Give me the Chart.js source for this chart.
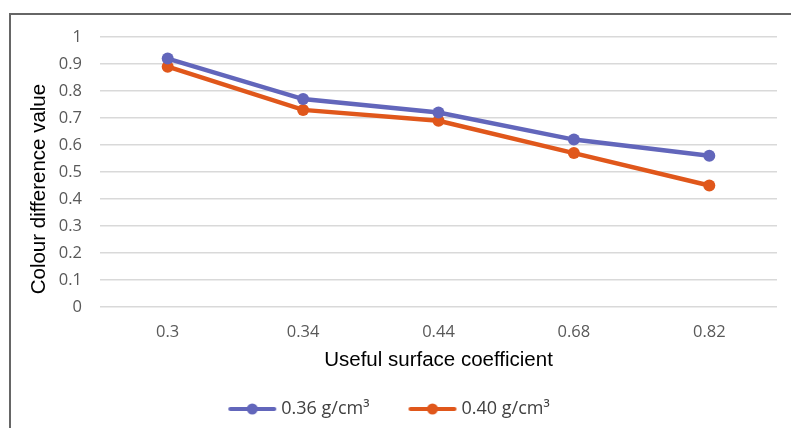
<!DOCTYPE html>
<html>
<head>
<meta charset="utf-8">
<script src="https://cdn.jsdelivr.net/npm/chart.js@4.4.1/dist/chart.umd.min.js"></script>
<style>
  html, body { margin: 0; padding: 0; background: #fff; }
  #wrap { position: relative; width: 791px; height: 428px; }
  #frame { position: absolute; left: 9px; top: 13px; right: -4px; bottom: -4px;
           border-top: 2px solid #666; border-left: 2px solid #666; }
  canvas { position: absolute; left: 0; top: 0; }
</style>
</head>
<body>
<div id="wrap">
  <div id="frame"></div>
  <canvas id="chart" width="791" height="428"></canvas>
</div>
<script>
// surface coefficient categories and colour difference per density
var coefficients = ['0.3', '0.34', '0.44', '0.68', '0.82'];
var density036 = [0.92, 0.77, 0.72, 0.62, 0.56];
var density040 = [0.89, 0.73, 0.69, 0.57, 0.45];
var seriesNames = ['0.36 g/cm\u00B3', '0.40 g/cm\u00B3'];

var blue = '#6266bb';
var orange = '#e0571b';

// legend marker: short line with a dot in the middle
// blank on the left gives the gap between legend items
function legendMarker(color) {
    var c = document.createElement('canvas');
    c.width = 84;
    c.height = 14;
    var ctx = c.getContext('2d');
    ctx.strokeStyle = color;
    ctx.lineWidth = 4;
    ctx.lineCap = 'round';
    ctx.beginPath();
    ctx.moveTo(37, 7);
    ctx.lineTo(81, 7);
    ctx.stroke();
    ctx.fillStyle = color;
    ctx.beginPath();
    ctx.arc(59, 7, 5.5, 0, Math.PI * 2);
    ctx.fill();
    return c;
}

var markers = [legendMarker(blue), legendMarker(orange)];

// nudge the legend row left
var legendShift = {
    id: 'legendShift',
    afterLayout: function (chart) {
        chart.legend.left -= 28;
        chart.legend.right -= 28;
    }
};

var data = {
    labels: coefficients,
    datasets: [
        {
            label: seriesNames[0],
            data: density036,
            borderColor: blue,
            backgroundColor: blue,
            borderWidth: 4.5,
            pointRadius: 6,
            pointBorderWidth: 0,
            pointHoverRadius: 6,
            tension: 0
        },
        {
            label: seriesNames[1],
            data: density040,
            borderColor: orange,
            backgroundColor: orange,
            borderWidth: 4.5,
            pointRadius: 6,
            pointBorderWidth: 0,
            pointHoverRadius: 6,
            tension: 0
        }
    ]
};

var config = {
    type: 'line',
    data: data,
    plugins: [legendShift],
    options: {
        responsive: false,
        animation: false,
        layout: {
            padding: { left: 27, right: 14, top: 37, bottom: 0 }
        },
        plugins: {
            tooltip: { enabled: false },
            legend: {
                position: 'bottom',
                labels: {
                    usePointStyle: true,
                    pointStyleWidth: 74,
                    padding: 9,
                    color: '#404040',
                    font: { family: 'Open Sans', size: 18 },
                    generateLabels: function (chart) {
                        return chart.data.datasets.map(function (ds, i) {
                            return {
                                text: ds.label,
                                pointStyle: markers[i],
                                fillStyle: ds.borderColor,
                                strokeStyle: ds.borderColor,
                                lineWidth: 0,
                                fontColor: '#404040',
                                datasetIndex: i,
                                hidden: false
                            };
                        });
                    }
                }
            }
        },
        scales: {
            x: {
                offset: true,
                grid: { display: false, drawTicks: false },
                border: { display: false },
                ticks: {
                    color: '#595959',
                    padding: 15,
                    font: { family: 'Open Sans', size: 16.5 }
                },
                title: {
                    display: true,
                    text: 'Useful surface coefficient',
                    color: '#000',
                    font: { family: 'Liberation Sans', size: 20.5 },
                    padding: { top: 1, bottom: 18 }
                },
                afterFit: function (scale) { scale.height = 84; }
            },
            y: {
                min: 0,
                max: 1,
                grid: { color: '#d9d9d9', lineWidth: 1.5, drawTicks: false },
                border: { display: false },
                ticks: {
                    stepSize: 0.1,
                    color: '#595959',
                    padding: 18,
                    font: { family: 'Open Sans', size: 16.5 },
                    callback: function (v) { return Math.round(v * 10) / 10; }
                },
                title: {
                    display: true,
                    // trailing spaces keep the visible words lower than the axis middle
                    text: 'Colour difference value      ',
                    color: '#000',
                    font: { family: 'Liberation Sans', size: 20.5 },
                    padding: { top: 0, bottom: 6 }
                },
                afterFit: function (scale) { scale.width = 73; }
            }
        }
    }
};

var ctx = document.getElementById('chart').getContext('2d');
window.lineChart = new Chart(ctx, config);
</script>
</body>
</html>
